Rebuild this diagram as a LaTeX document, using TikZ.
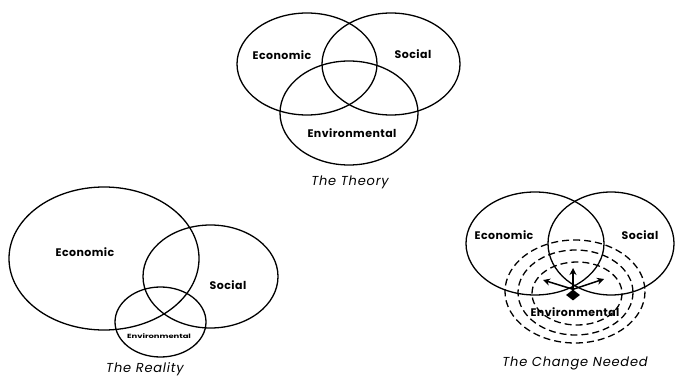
\documentclass[tikz,border=0pt]{standalone}
\usepackage{fontspec}
\setmainfont{Poppins}
\usetikzlibrary{arrows.meta,shapes.geometric}
\begin{document}
\begin{tikzpicture}[x=1pt,y=-1pt,
  ring/.style={line width=1.3pt},
  dring/.style={line width=1.3pt,dash pattern=on 7pt off 4pt},
  lab/.style={font=\fontsize{11}{12}\selectfont\bfseries\addfontfeatures{LetterSpace=4}},
  captxt/.style={font=\fontsize{13}{14}\selectfont\itshape\addfontfeatures{LetterSpace=6}},
  arr/.style={line width=1.5pt,-{Stealth[length=7pt,width=7pt]}}]
\useasboundingbox (0,0) rectangle (676,379);
% The Theory
\draw[ring] (307,64) ellipse [x radius=70,y radius=51];
\draw[ring] (391,64) ellipse [x radius=69,y radius=51];
\draw[ring] (349,113) ellipse [x radius=69,y radius=52];
\node[lab] (te) at (282,55) {Economic};
\node[lab] (ts) at (413,54) {Social};
\node[lab] (tv) at (352,133) {Environmental};
\node[captxt] (tt) at (350,182) {The Theory};
% The Reality
\draw[ring] (104,258.5) ellipse [x radius=95,y radius=71.5];
\draw[ring] (210.5,276.5) ellipse [x radius=67.5,y radius=51.5];
\draw[ring] (160.5,322) ellipse [x radius=45.5,y radius=35];
\node[lab] (re) at (85,252) {Economic};
\node[lab] (rs) at (228,285) {Social};
\node[font=\fontsize{6}{7}\selectfont\bfseries,xscale=1.4] (rv) at (159,336) {Environmental};
\node[captxt,anchor=base] (rt) at (145,372) {The Reality};
% The Change Needed
\draw[ring] (535,243.5) ellipse [x radius=69,y radius=51.5];
\draw[ring] (611,243.5) ellipse [x radius=63,y radius=51.5];
\draw[dring] (575,291.5) ellipse [x radius=70,y radius=51.5];
\draw[dring] (575.5,292.5) ellipse [x radius=57.5,y radius=42.5];
\draw[dring] (577,293.5) ellipse [x radius=45,y radius=31.5];
\node[fill=black,inner sep=0pt,minimum width=14pt,minimum height=11pt,shape=diamond] (dm) at (573,295) {};
\coordinate (au) at (573,268);
\coordinate (al) at (543,280);
\coordinate (ar) at (604,279);
\draw[arr] (dm.north) -- (au);
\draw[arr] (dm.north) -- (al);
\draw[arr] (dm.north) -- (ar);
\node[lab] (ce) at (504,235) {Economic};
\node[lab] (cs) at (640,235) {Social};
\node[lab] (cv) at (575,312) {Environmental};
\node[captxt] (ct) at (575,363) {The Change Needed};
\end{tikzpicture}
\end{document}
